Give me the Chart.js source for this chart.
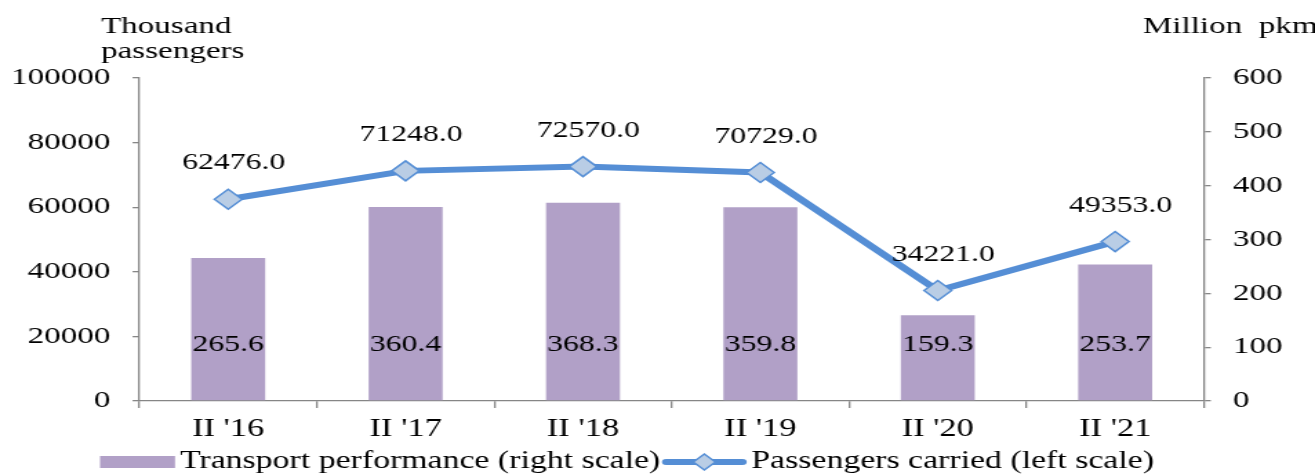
<!DOCTYPE html>
<html><head><meta charset="utf-8">
<script src="https://cdn.jsdelivr.net/npm/chart.js@4.4.0/dist/chart.umd.min.js"></script>
<style>
html,body{margin:0;padding:0;background:#fff;overflow:hidden;width:1315px;height:475px;}
#wrap{position:absolute;left:0;top:0;height:475px;transform-origin:0 0;}
canvas{display:block;}
</style></head>
<body><div id="wrap"><canvas id="c"></canvas></div>
<script>
// ---- data ----
const categories = ["II '16", "II '17", "II '18", "II '19", "II '20", "II '21"];
const transportPerformance = [265.6, 360.4, 368.3, 359.8, 159.3, 253.7]; // million pkm (right scale)
const passengersCarried = [62476.0, 71248.0, 72570.0, 70729.0, 34221.0, 49353.0]; // thousand passengers (left scale)
const leftTicks = [0, 20000, 40000, 60000, 80000, 100000];
const rightTicks = [0, 100, 200, 300, 400, 500, 600];
const leftTitle = ["Thousand", "passengers"];
const rightTitle = "Million  pkm";
const barLegend = "Transport performance (right scale)";
const lineLegend = "Passengers carried (left scale)";

// ---- layout (the reference is drawn horizontally stretched) ----
const S = 1.38;
const W = Math.round(1315 / S), H = 475;
const FONT = '"Liberation Serif", "Times New Roman", serif';
const AXIS = '#868686';
const LINE = '#558ED5';
const PLOT_L = 139.5 / S, PLOT_R = 1204 / S, PLOT_T = 78, PLOT_B = 401;
const XAXIS_H = 40;

const wrap = document.getElementById('wrap');
wrap.style.width = W + 'px';
wrap.style.transform = 'scaleX(' + (1315 / W) + ')';
const cv = document.getElementById('c');
cv.width = W; cv.height = H;

Chart.defaults.font.family = FONT;
Chart.defaults.font.size = 24;
Chart.defaults.color = '#000';

const extras = {
  id: 'extras',
  afterDatasetsDraw(chart) {
    const ctx = chart.ctx;
    ctx.save();
    ctx.font = '23px ' + FONT;
    ctx.fillStyle = '#000';
    ctx.textAlign = 'center';
    ctx.textBaseline = 'middle';
    // bar value labels (inside base)
    const bMeta = chart.getDatasetMeta(0);
    const yb = chart.scales.y1.getPixelForValue(0);
    bMeta.data.forEach((el, i) => {
      ctx.fillText(transportPerformance[i].toFixed(1), el.x, yb - 56);
    });
    // line value labels (above)
    const lMeta = chart.getDatasetMeta(1);
    lMeta.data.forEach((el, i) => {
      ctx.fillText(passengersCarried[i].toFixed(1), el.x + 4, el.y - 36);
    });
    ctx.restore();
  },
  afterDraw(chart) {
    const ctx = chart.ctx;
    ctx.save();
    ctx.font = '24px ' + FONT;
    ctx.fillStyle = '#000';
    ctx.textBaseline = 'alphabetic';
    ctx.textAlign = 'left';
    ctx.fillText(leftTitle[0], 101 / S, 33);
    ctx.fillText(leftTitle[1], 101 / S, 58);
    ctx.fillText(rightTitle, 1143 / S, 33);
    // legend
    ctx.font = '24.5px ' + FONT;
    const ly = 462;
    let x = 100 / S;
    ctx.fillStyle = '#B1A0C7';
    ctx.fillRect(x, ly - 6, 75 / S, 12);
    x += 80 / S;
    ctx.fillStyle = '#000';
    ctx.textBaseline = 'middle';
    ctx.fillText(barLegend, x, ly);
    x += ctx.measureText(barLegend).width + 3 / S;
    const lw = 82 / S;
    ctx.strokeStyle = LINE;
    ctx.lineWidth = 6;
    ctx.lineCap = 'round';
    ctx.beginPath(); ctx.moveTo(x + 2, ly); ctx.lineTo(x + lw - 2, ly); ctx.stroke();
    ctx.fillStyle = '#B9CDE5';
    ctx.strokeStyle = LINE;
    ctx.lineWidth = 1.5;
    ctx.beginPath();
    const cx = x + lw / 2, r = 8;
    ctx.moveTo(cx - r, ly); ctx.lineTo(cx, ly - r); ctx.lineTo(cx + r, ly); ctx.lineTo(cx, ly + r); ctx.closePath();
    ctx.fill(); ctx.stroke();
    x += lw + 6 / S;
    ctx.fillStyle = '#000';
    ctx.fillText(lineLegend, x, ly);
    ctx.restore();
  }
};

new Chart(cv, {
  type: 'bar',
  data: {
    labels: categories,
    datasets: [
      {
        type: 'bar',
        label: barLegend,
        data: transportPerformance,
        yAxisID: 'y1',
        backgroundColor: '#B1A0C7',
        borderWidth: 0,
        barPercentage: 0.417,
        categoryPercentage: 1,
        order: 1
      },
      {
        type: 'line',
        label: lineLegend,
        data: passengersCarried,
        yAxisID: 'y',
        borderColor: LINE,
        borderWidth: 6,
        tension: 0,
        pointStyle: 'rectRot',
        pointRadius: 10,
        pointBackgroundColor: '#B9CDE5',
        pointBorderColor: LINE,
        pointBorderWidth: 1.5,
        order: 0
      }
    ]
  },
  options: {
    responsive: false,
    animation: false,
    devicePixelRatio: 1,
    layout: { padding: { top: PLOT_T, bottom: H - PLOT_B - XAXIS_H, left: 0, right: 0 } },
    plugins: { legend: { display: false }, tooltip: { enabled: false } },
    scales: {
      x: {
        offset: true,
        grid: { offset: true, drawOnChartArea: false, drawTicks: true, tickLength: 7, color: AXIS, lineWidth: 1.3 },
        border: { color: AXIS, width: 1.3 },
        ticks: { padding: 6, maxRotation: 0, autoSkip: false, color: '#000', font: { size: 25 } },
        afterFit: s => { s.height = XAXIS_H; }
      },
      y: {
        position: 'left',
        min: 0, max: 100000,
        afterBuildTicks: s => { s.ticks = leftTicks.map(v => ({ value: v })); },
        ticks: { padding: 16, color: '#000', callback: v => String(v) },
        grid: { drawOnChartArea: false, drawTicks: true, tickLength: 5, color: AXIS, lineWidth: 1.3 },
        border: { color: AXIS, width: 1.3 },
        afterFit: s => { s.width = PLOT_L; }
      },
      y1: {
        position: 'right',
        min: 0, max: 600,
        afterBuildTicks: s => { s.ticks = rightTicks.map(v => ({ value: v })); },
        ticks: { padding: 16, color: '#000', callback: v => String(v) },
        grid: { drawOnChartArea: false, drawTicks: true, tickLength: 5, color: AXIS, lineWidth: 1.3 },
        border: { color: AXIS, width: 1.3 },
        afterFit: s => { s.width = W - PLOT_R; }
      }
    }
  },
  plugins: [extras]
});
</script>
</body></html>
